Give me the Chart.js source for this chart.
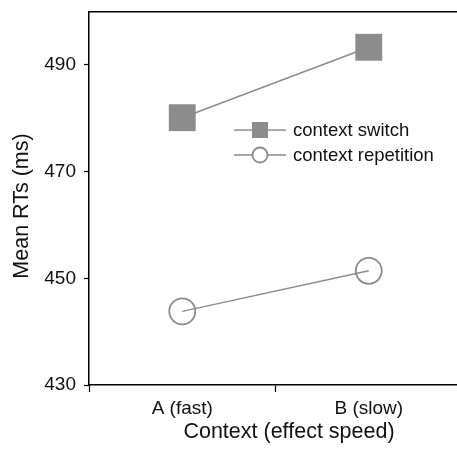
<!DOCTYPE html>
<html>
<head>
<meta charset="utf-8">
<script src="https://cdn.jsdelivr.net/npm/chart.js@4.4.1/dist/chart.umd.min.js"></script>
<style>
body{margin:0;background:#fff;}
#wrap{width:457px;height:450px;}
</style>
</head>
<body>
<div id="wrap"><canvas id="chart" width="457" height="450"></canvas></div>
<script>
const categories = ["A (fast)", "B (slow)"];
const seriesNames = ["context switch", "context repetition"];
const switchValues = [480.1, 493.3];
const repetitionValues = [443.8, 451.4];
const yTicks = [430, 450, 470, 490];
const xTitle = "Context (effect speed)";
const yTitle = "Mean RTs (ms)";

const gray = "#8c8c8c";
const fontFam = "'Liberation Sans', Arial, sans-serif";
const toPoints = vals => vals.map((v, i) => ({x: i, y: v}));
const noPad = s => { s.paddingLeft = s.paddingRight = s.paddingTop = s.paddingBottom = 0; };

Chart.defaults.font.family = fontFam;
Chart.defaults.color = "#111";

// legend inside the plot + axis titles placed like the original
const extras = {
  id: "extras",
  afterDraw(chart) {
    const ctx = chart.ctx;
    const x0 = 234, x1 = 286, cx = 260, tx = 293;
    const rows = [130, 155];
    ctx.save();
    ctx.strokeStyle = gray;
    ctx.lineWidth = 1.5;
    rows.forEach(y => {
      ctx.beginPath();
      ctx.moveTo(x0, y);
      ctx.lineTo(x1, y);
      ctx.stroke();
    });
    ctx.fillStyle = gray;
    ctx.fillRect(cx - 8, rows[0] - 8, 16, 16);
    ctx.beginPath();
    ctx.arc(cx, rows[1], 7.5, 0, Math.PI * 2);
    ctx.fillStyle = "#fff";
    ctx.fill();
    ctx.lineWidth = 1.8;
    ctx.stroke();
    ctx.fillStyle = "#111";
    ctx.font = "18.5px " + fontFam;
    ctx.textBaseline = "middle";
    ctx.textAlign = "left";
    seriesNames.forEach((name, i) => ctx.fillText(name, tx, rows[i] + 1));

    ctx.font = "21.5px " + fontFam;
    ctx.textAlign = "center";
    ctx.fillText(xTitle, 289, 432);
    ctx.translate(22, 206);
    ctx.rotate(-Math.PI / 2);
    ctx.fillText(yTitle, 0, 0);
    ctx.restore();
  }
};

new Chart(document.getElementById("chart"), {
  type: "line",
  data: {
    datasets: [{
      label: seriesNames[0],
      data: toPoints(switchValues),
      borderColor: gray,
      borderWidth: 1.5,
      pointStyle: "rect",
      pointRadius: 19,
      pointHoverRadius: 19,
      pointBackgroundColor: gray,
      pointBorderWidth: 0,
      xAxisID: "x"
    }, {
      label: seriesNames[1],
      data: toPoints(repetitionValues),
      borderColor: gray,
      borderWidth: 1.5,
      pointStyle: "circle",
      pointRadius: 13,
      pointHoverRadius: 13,
      pointBackgroundColor: "rgba(0,0,0,0)",
      pointBorderColor: gray,
      pointBorderWidth: 1.8,
      xAxisID: "x"
    }]
  },
  options: {
    responsive: false,
    animation: false,
    clip: false,
    layout: {padding: 0, autoPadding: false},
    plugins: {legend: {display: false}, tooltip: {enabled: false}},
    scales: {
      x: {
        type: "linear",
        position: "bottom",
        min: -0.5,
        max: 1.473,
        afterBuildTicks: s => { s.ticks = [-0.5, 0, 0.5, 1].map(v => ({value: v})); },
        afterFit: s => { s.height = 65; noPad(s); },
        ticks: {
          autoSkip: false,
          maxRotation: 0,
          padding: 5,
          font: {size: 19},
          callback: v => Number.isInteger(v) ? categories[v] : ""
        },
        grid: {
          drawOnChartArea: false,
          tickLength: 7,
          tickWidth: 1.2,
          tickColor: c => (c.tick && Number.isInteger(c.tick.value)) ? "rgba(0,0,0,0)" : "#000"
        },
        border: {color: "#000", width: 1.5}
      },
      x2: {
        type: "linear",
        position: "top",
        min: -0.5,
        max: 1.473,
        ticks: {display: false},
        grid: {display: false},
        border: {color: "#000", width: 1.5},
        afterFit: s => { s.height = 11.5; noPad(s); }
      },
      y: {
        min: 430,
        max: 500,
        afterBuildTicks: s => { s.ticks = yTicks.map(v => ({value: v})); },
        afterFit: s => { s.width = 89; noPad(s); },
        ticks: {padding: 8, font: {size: 19}},
        grid: {drawOnChartArea: false, tickLength: 5, tickWidth: 1.2, tickColor: "#000"},
        border: {color: "#000", width: 1.5}
      }
    }
  },
  plugins: [extras]
});
</script>
</body>
</html>
